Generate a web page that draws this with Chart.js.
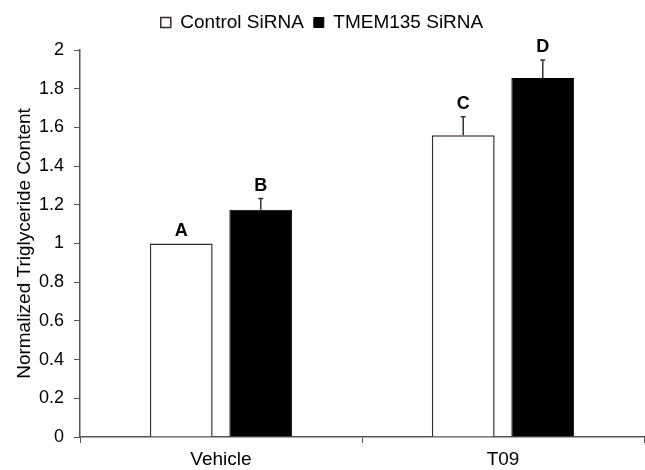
<!DOCTYPE html>
<html>
<head>
<meta charset="utf-8">
<script src="https://cdn.jsdelivr.net/npm/chart.js@4/dist/chart.umd.min.js"></script>
<style>
  html, body { margin: 0; padding: 0; background: #fff; }
  #wrap { width: 645px; height: 470px; position: relative; }
</style>
</head>
<body>
<div id="wrap"><canvas id="myChart"></canvas></div>
<script>
let categories = ['Vehicle', 'T09'];
let controlValues = [1.0, 1.56];
let controlErrors = [0, 0.095];
let tmemValues = [1.175, 1.855];
let tmemErrors = [0.057, 0.093];
let controlLetters = ['A', 'C'];
let tmemLetters = ['B', 'D'];
let yTickLabels = ['0', '0.2', '0.4', '0.6', '0.8', '1', '1.2', '1.4', '1.6', '1.8', '2'];

let fontFamily = "'Liberation Sans', Arial, sans-serif";
let errors = [controlErrors, tmemErrors];
let values = [controlValues, tmemValues];
let letters = [controlLetters, tmemLetters];

// error bars (upward only) and the significance letters
let errorBarPlugin = {
    id: 'errorBars',
    afterDatasetsDraw(chart) {
        let ctx = chart.ctx;
        let y = chart.scales.y;
        ctx.save();
        for (let i = 0; i < chart.data.datasets.length; i++) {
            let meta = chart.getDatasetMeta(i);
            meta.data.forEach((bar, j) => {
                let top = y.getPixelForValue(values[i][j] + errors[i][j]);
                if (errors[i][j] > 0) {
                    ctx.strokeStyle = '#333';
                    ctx.lineWidth = 1.5;
                    ctx.beginPath();
                    ctx.moveTo(bar.x, bar.y);
                    ctx.lineTo(bar.x, top);
                    ctx.moveTo(bar.x - 2.5, top);
                    ctx.lineTo(bar.x + 2.5, top);
                    ctx.stroke();
                }
                ctx.fillStyle = '#000';
                ctx.font = 'bold 18px ' + fontFamily;
                ctx.textAlign = 'center';
                ctx.textBaseline = 'alphabetic';
                ctx.fillText(letters[i][j], bar.x, top - 8);
            });
        }
        ctx.restore();
    }
};

// a bit more room under the legend
let legendGap = {
    id: 'legendGap',
    beforeInit(chart) {
        let fit = chart.legend.fit;
        chart.legend.fit = function () {
            fit.call(this);
            this.height += 8;
        };
    }
};

let myChart = document.getElementById('myChart').getContext('2d');

let chart = new Chart(myChart, {
    type: 'bar',
    data: {
        labels: categories,
        datasets: [
            {
                label: 'Control SiRNA',
                data: controlValues,
                backgroundColor: '#ffffff',
                borderColor: '#3a2a25',
                borderWidth: 1.5,
                categoryPercentage: 0.564,
                barPercentage: 0.79
            },
            {
                label: 'TMEM135 SiRNA',
                data: tmemValues,
                backgroundColor: '#000000',
                borderColor: '#000000',
                borderWidth: 1,
                categoryPercentage: 0.564,
                barPercentage: 0.79
            }
        ]
    },
    options: {
        responsive: true,
        maintainAspectRatio: false,
        animation: false,
        layout: { padding: { left: 0, right: 1, top: 3, bottom: 0 } },
        plugins: {
            legend: {
                position: 'top',
                labels: {
                    boxWidth: 10,
                    boxHeight: 10,
                    padding: 10,
                    color: '#000',
                    font: { size: 19, family: fontFamily }
                }
            },
            tooltip: { enabled: false }
        },
        scales: {
            x: {
                offset: true,
                grid: {
                    offset: true,
                    drawOnChartArea: false,
                    drawTicks: true,
                    tickLength: 6,
                    color: '#555'
                },
                border: { color: '#555', width: 1.5 },
                ticks: {
                    color: '#000',
                    padding: 5,
                    font: { size: 19, family: fontFamily }
                },
                afterFit: (s) => { s.height = 33; }
            },
            y: {
                min: 0,
                max: 2,
                ticks: {
                    stepSize: 0.2,
                    padding: 10,
                    color: '#000',
                    font: { size: 18, family: fontFamily },
                    callback: (v, i) => yTickLabels[i]
                },
                grid: {
                    drawOnChartArea: false,
                    drawTicks: true,
                    tickLength: 6,
                    color: '#555'
                },
                border: { color: '#555', width: 1.5 },
                title: {
                    display: true,
                    text: 'Normalized Triglyceride Content',
                    color: '#000',
                    padding: { top: 13, bottom: 0 },
                    font: { size: 19, family: fontFamily }
                },
                afterFit: (s) => { s.width = 80; }
            }
        }
    },
    plugins: [errorBarPlugin, legendGap]
});
</script>
</body>
</html>
